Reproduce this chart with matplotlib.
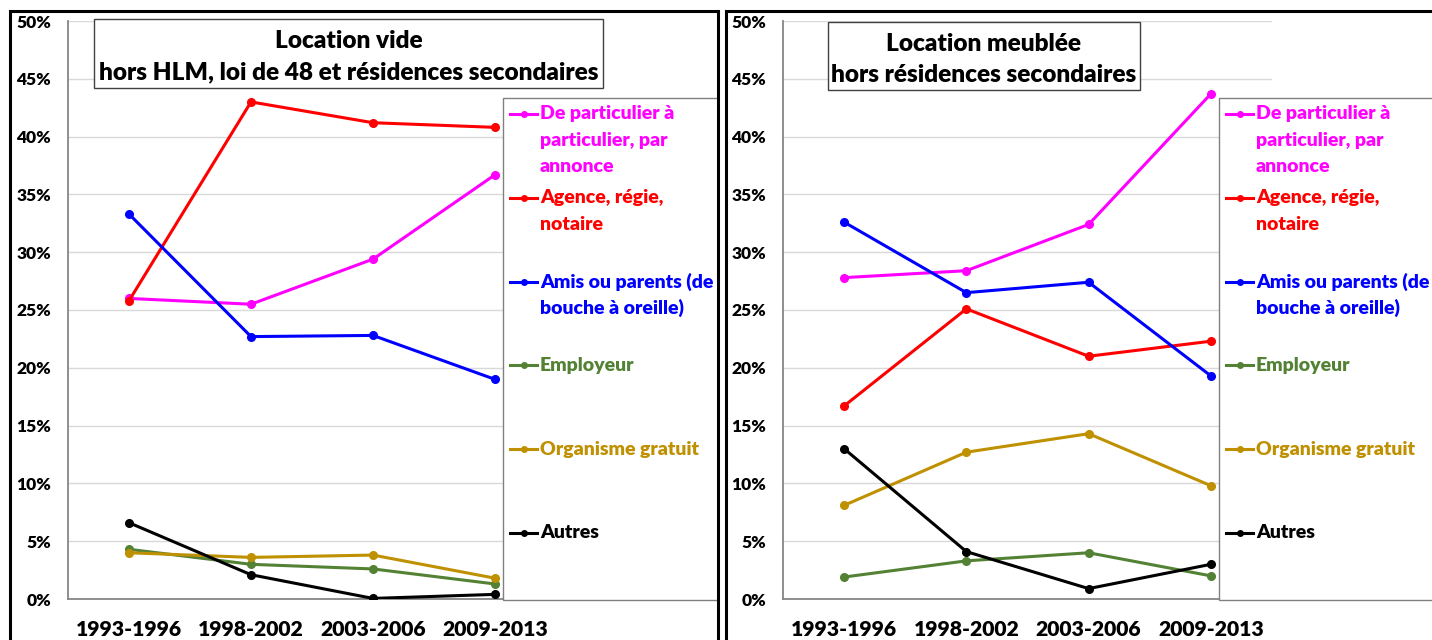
import matplotlib
matplotlib.use("Agg")
import matplotlib.pyplot as plt
from matplotlib.patches import Rectangle
from matplotlib.lines import Line2D
from matplotlib.transforms import Bbox
from matplotlib.ticker import FuncFormatter

plt.rcParams['font.family'] = ['Lato', 'DejaVu Sans']
WT = 'heavy'

periods = ["1993-1996", "1998-2002", "2003-2006", "2009-2013"]
labels = ["De particulier à\nparticulier, par\nannonce", "Agence, régie,\nnotaire",
          "Amis ou parents (de\nbouche à oreille)", "Employeur", "Organisme gratuit", "Autres"]
colors = ["#FF00FF", "#FF0000", "#0000FF", "#548235", "#BF9000", "#000000"]

# Location vide
vide_particulier = [26.0, 25.5, 29.4, 36.7]
vide_agence = [25.8, 43.0, 41.2, 40.8]
vide_amis = [33.3, 22.7, 22.8, 19.0]
vide_employeur = [4.3, 3.0, 2.6, 1.3]
vide_organisme = [4.0, 3.6, 3.8, 1.8]
vide_autres = [6.6, 2.1, 0.05, 0.4]

# Location meublée
meuble_particulier = [27.8, 28.4, 32.4, 43.7]
meuble_agence = [16.7, 25.1, 21.0, 22.3]
meuble_amis = [32.6, 26.5, 27.4, 19.3]
meuble_employeur = [1.9, 3.3, 4.0, 2.0]
meuble_organisme = [8.1, 12.7, 14.3, 9.8]
meuble_autres = [13.0, 4.1, 0.9, 3.0]

vide = [vide_particulier, vide_agence, vide_amis, vide_employeur, vide_organisme, vide_autres]
meuble = [meuble_particulier, meuble_agence, meuble_amis, meuble_employeur, meuble_organisme, meuble_autres]

W, H = 1432, 640
fig = plt.figure(figsize=(W / 100, H / 100), dpi=100)


def fx(x):
    return x / W


def fy(y):
    return 1 - y / H


def panel(x_axis, x_right, series, title, tbox, leg_x, clip_x):
    ax = fig.add_axes([fx(x_axis), fy(599), (x_right - x_axis) / W, 578 / H])
    xs = range(len(periods))
    for vals, c in zip(series, colors):
        ax.plot(xs, [v / 100 for v in vals], color=c, lw=2.2, marker='o', ms=5.5, zorder=3)
    ax.set_xlim(-0.5, len(periods) - 0.5)
    ax.set_ylim(0, 0.5)
    ax.set_yticks([i * 0.05 for i in range(11)])
    ax.yaxis.set_major_formatter(FuncFormatter(lambda v, p: f"{v * 100:.0f}%"))
    ax.set_xticks(list(xs))
    ax.set_xticklabels(periods, fontsize=15.2, fontweight=WT)
    ax.tick_params(axis='y', length=0, pad=12, labelsize=12.5)
    ax.tick_params(axis='x', length=0, pad=15)
    for lab in ax.get_yticklabels():
        lab.set_fontweight(WT)
    ax.grid(axis='y', color='#D9D9D9', lw=1)
    ax.set_axisbelow(True)
    for s in ['top', 'right']:
        ax.spines[s].set_visible(False)
    for s in ['left', 'bottom']:
        ax.spines[s].set_color('#868686')
        ax.spines[s].set_linewidth(1.3)

    # title box
    x0, y0, x1, y1 = tbox
    fig.patches.append(Rectangle((fx(x0), fy(y1)), (x1 - x0) / W, (y1 - y0) / H,
                                 transform=fig.transFigure, facecolor='white',
                                 edgecolor='#404040', lw=1, zorder=5))
    cx = (x0 + x1) / 2
    fig.text(fx(cx), fy(y0 + 22), title[0], ha='center', va='center', fontsize=17.6,
             fontweight=WT, zorder=6)
    fig.text(fx(cx), fy(y0 + 53), title[1], ha='center', va='center', fontsize=17.6,
             fontweight=WT, zorder=6)

    # legend box
    fig.patches.append(Rectangle((fx(leg_x), fy(600)), (clip_x - leg_x) / W, 502 / H,
                                 transform=fig.transFigure, facecolor='white',
                                 edgecolor='#808080', lw=1, zorder=5))
    clip = Bbox([[leg_x, 0], [clip_x - 2, H]])
    for i, (lab, c) in enumerate(zip(labels, colors)):
        y = 114 + 83.8 * i
        fig.lines.append(Line2D([fx(leg_x + 7), fx(leg_x + 34)], [fy(y), fy(y)],
                                transform=fig.transFigure, color=c, lw=2.2, zorder=6))
        fig.lines.append(Line2D([fx(leg_x + 20.5)], [fy(y)], transform=fig.transFigure,
                                color=c, marker='o', ms=4, zorder=6))
        for k, line in enumerate(lab.split("\n")):
            t = fig.text(fx(leg_x + 37), fy(y + 26.5 * k), line, ha='left', va='center',
                         fontsize=14, fontweight=WT, color=c, zorder=6)
            t.set_clip_box(clip)
            t.set_clip_on(True)
    return ax


panel(68, 556, vide, ["Location vide", "hors HLM, loi de 48 et résidences secondaires"],
      (94, 19, 603, 88), 503, 718)
panel(783, 1272, meuble, ["Location meublée", "hors résidences secondaires"],
      (828, 22, 1140, 90), 1219, 1440)

# panel frames
for x0, x1 in [(10, 718), (726, 1450)]:
    fig.patches.append(Rectangle((fx(x0), fy(660)), (x1 - x0) / W, 649 / H,
                                 transform=fig.transFigure, facecolor='none',
                                 edgecolor='black', lw=2.2, zorder=10))

fig.savefig("out.png", dpi=100)
